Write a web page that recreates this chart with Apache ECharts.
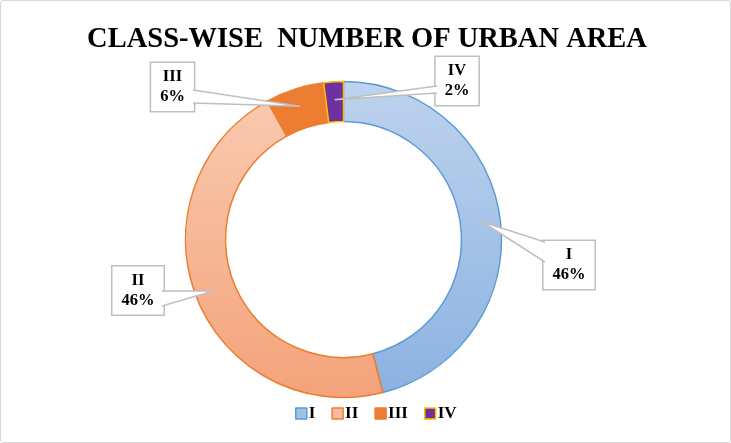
<!DOCTYPE html>
<html>
<head>
<meta charset="utf-8">
<script src="https://cdn.jsdelivr.net/npm/echarts@6/dist/echarts.min.js"></script>
<style>
  html, body { margin: 0; padding: 0; background: #fff; }
  #main { width: 731px; height: 443px; box-sizing: border-box; border: 1px solid #d9d9d9; border-radius: 3px; }
</style>
</head>
<body>
<div id="main"></div>
<script type="text/javascript">
    var classes = ['I', 'II', 'III', 'IV'];
    var counts = [23, 23, 3, 1];
    // callout boxes: centre, and the two points where the pointer meets the box
    var labelPos = [[568, 264], [137, 289.5], [171.5, 86], [456, 80]];
    var pointerBase = [
        [[544, 241], [544, 261]],
        [[161, 290], [161, 305]],
        [[192, 89], [192, 102]],
        [[436, 85], [436, 92]]
    ];
    var cx = 342.5, cy = 238.5, rMid = 140;

    function grad(top, bottom) {
        return new echarts.graphic.LinearGradient(0, 0, 0, 1, [
            { offset: 0, color: top },
            { offset: 1, color: bottom }
        ]);
    }
    var fills = [grad('#BDD3EE', '#8CB2E1'), grad('#F9C9B0', '#F4A37A'), '#ED7D31', '#7030A0'];
    var borders = ['#5B9BD5', '#ED7D31', '#ED7D31', '#FFC000'];
    var legendFills = ['#9DC3E6', '#F8BBA0', '#ED7D31', '#7030A0'];

    var data = [];
    for (var i = 0; i < classes.length; i++) {
        data.push({
            name: classes[i],
            value: counts[i],
            itemStyle: { color: fills[i], borderColor: borders[i], borderWidth: 1.5 }
        });
    }

    // mid angle of each slice (clockwise from top) -> tip of the callout pointer
    var total = 0;
    counts.forEach(function (v) { total += v; });
    var tips = [], acc = 0;
    counts.forEach(function (v) {
        var a = (acc + v / 2) / total * 2 * Math.PI;
        tips.push([cx + rMid * Math.sin(a), cy - rMid * Math.cos(a)]);
        acc += v;
    });

    var pointers = [];
    tips.forEach(function (t, k) {
        var b = pointerBase[k];
        pointers.push({
            type: 'polygon', z: 10, silent: true,
            shape: { points: [t, b[0], b[1]] },
            style: { fill: '#fff', stroke: null }
        });
        pointers.push({
            type: 'polyline', z: 11, silent: true,
            shape: { points: [b[0], t, b[1]] },
            style: { stroke: '#BFBFBF', lineWidth: 1.5, fill: null }
        });
    });

    var myChart = echarts.init(document.getElementById('main'));
    myChart.setOption({
        animation: false,
        title: {
            text: 'CLASS-WISE  NUMBER OF URBAN AREA',
            left: 361,
            textAlign: 'center',
            top: 19,
            textStyle: { fontFamily: 'Liberation Serif', fontWeight: 'bold', fontSize: 28.5, color: '#000' }
        },
        legend: {
            bottom: 15,
            left: 289,
            itemWidth: 11,
            itemHeight: 11,
            itemGap: 16,
            icon: 'rect',
            data: classes.map(function (c, i) {
                return { name: c, itemStyle: { color: legendFills[i], borderColor: borders[i], borderWidth: 1.5 } };
            }),
            textStyle: { fontFamily: 'Liberation Serif', fontWeight: 'bold', fontSize: 17, color: '#000', padding: [0, 0, 0, -3] }
        },
        graphic: pointers,
        series: [{
            type: 'pie',
            center: [cx, cy],
            radius: [118, 158],
            startAngle: 90,
            clockwise: true,
            data: data,
            label: {
                show: true,
                position: 'outside',
                formatter: function (p) { return p.name + '\n' + Math.round(p.percent) + '%'; },
                fontFamily: 'Liberation Serif',
                fontWeight: 'bold',
                fontSize: 16.5,
                lineHeight: 20,
                color: '#000',
                align: 'center',
                backgroundColor: '#fff',
                borderColor: '#BFBFBF',
                borderWidth: 1.5,
                padding: [5, 9, 3, 9]
            },
            labelLine: { show: false },
            labelLayout: function (params) {
                var p = labelPos[params.dataIndex];
                return { x: p[0], y: p[1], align: 'center', verticalAlign: 'middle' };
            }
        }]
    });
</script>
</body>
</html>
